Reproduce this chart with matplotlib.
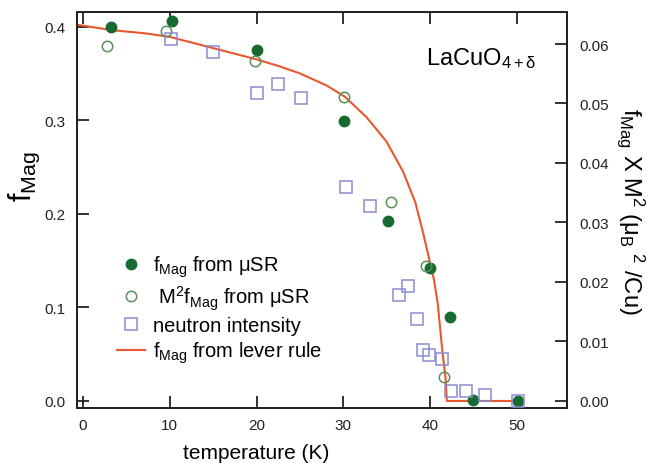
import matplotlib
matplotlib.use("Agg")
import matplotlib.pyplot as plt
from matplotlib.lines import Line2D

plt.rcParams['font.family'] = ['Liberation Sans', 'DejaVu Sans']
plt.rcParams['mathtext.fontset'] = 'custom'
plt.rcParams['mathtext.rm'] = 'Liberation Sans'
plt.rcParams['mathtext.it'] = 'Liberation Sans'
plt.rcParams['mathtext.bf'] = 'Liberation Sans:bold'
plt.rcParams['mathtext.sf'] = 'Liberation Sans'

# ---- data ----
# f_Mag from muSR (left axis)
T_fmag = [3.2, 10.3, 20.1, 30.1, 35.2, 40.0, 42.3, 45.0, 50.2]
f_mag = [0.400, 0.406, 0.375, 0.299, 0.192, 0.142, 0.090, 0.001, 0.000]

# M^2 f_Mag from muSR (right axis)
T_m2 = [2.8, 9.6, 19.8, 30.1, 35.5, 39.5, 41.6]
m2_fmag = [0.0597, 0.0622, 0.0572, 0.0511, 0.0334, 0.0226, 0.0040]

# neutron intensity (right axis)
T_neut = [10.1, 15.0, 20.0, 22.5, 25.1, 30.3, 33.1, 36.4, 37.5, 38.5,
          39.2, 39.9, 41.4, 42.4, 44.2, 46.3, 50.2]
neut = [0.0608, 0.0586, 0.0518, 0.0533, 0.0510, 0.0359, 0.0328, 0.0178,
        0.0192, 0.0138, 0.0085, 0.0077, 0.0070, 0.0016, 0.0016, 0.0009, 0.0000]

# f_Mag from lever rule (left axis)
T_lever = [-0.7, 0, 3.5, 7, 10, 15, 20, 22.5, 25, 28.1, 30.2, 32.7, 35.0, 36.9,
           38.3, 39.2, 40.0, 40.45, 40.9, 41.4, 41.8, 41.95, 50.4]
f_lever = [0.402, 0.401, 0.396, 0.393, 0.389, 0.377, 0.365, 0.358, 0.350,
           0.337, 0.325, 0.303, 0.277, 0.245, 0.2125, 0.180, 0.148, 0.130,
           0.104, 0.056, 0.024, 0.0, 0.0]

x_ticks = [0, 10, 20, 30, 40, 50]
left_ticks = [0.0, 0.1, 0.2, 0.3, 0.4]
left_labels = ['0.0', '0.1', '0.2', '0.3', '0.4']
right_ticks = [0.00, 0.01, 0.02, 0.03, 0.04, 0.05, 0.06]
right_labels = ['0.00', '0.01', '0.02', '0.03', '0.04', '0.05', '0.06']

c_fill = '#196a31'
c_open = '#5b8f58'
c_sq = '#8a8ccf'
c_line = '#e8582e'
c_ax = '#222222'

fig = plt.figure(figsize=(6.54, 4.64), dpi=100)
ax = fig.add_axes([77/654, 1-409/464, 490/654, 396/464])
ax2 = ax.twinx()

ax.plot(T_lever, f_lever, color=c_line, lw=1.5, zorder=2)
ax.plot(T_fmag, f_mag, 'o', ms=7.5, color=c_fill, mec=c_fill, zorder=3)
ax2.plot(T_m2, m2_fmag, 'o', ms=7.5, mfc='none', mec=c_open, mew=1.1, zorder=3)
ax2.plot(T_neut, neut, 's', ms=8, mfc='none', mec=c_sq, mew=1.1, zorder=3)

ax.set_xlim(-0.7, 55.8)
ax.set_ylim(-0.0075, 0.4156)
ax2.set_ylim(-0.00126, 0.0654)

ax.set_xticks(x_ticks)
ax.set_xticklabels([str(t) for t in x_ticks])
ax.set_yticks(left_ticks)
ax.set_yticklabels(left_labels)
ax2.set_yticks(right_ticks)
ax2.set_yticklabels(right_labels)

for a in (ax, ax2):
    for s in a.spines.values():
        s.set_linewidth(1.3)
        s.set_color(c_ax)
ax.tick_params(axis='x', direction='in', length=8.5, width=1.3, top=True,
               labelsize=11, pad=7, colors=c_ax)
ax.tick_params(axis='y', direction='in', length=8.5, width=1.3, right=False,
               labelsize=11, pad=8, colors=c_ax)
ax2.tick_params(axis='y', direction='in', length=8.5, width=1.3,
                labelsize=11, pad=9, colors=c_ax)

ax.set_xlabel('temperature (K)', fontsize=15)
ax.xaxis.set_label_coords(0.366, -0.088, transform=ax.transAxes)
ax.xaxis.label.set_va('top')
ax.set_ylabel(r'$\mathrm{f_{Mag}}$', fontsize=22)
ax.yaxis.set_label_coords(-0.072, 0.586, transform=ax.transAxes)
ax2.set_ylabel(r'$\mathrm{f_{Mag}}$ X M$^{2}$ ($\mathrm{μ_B}$ $^{2}$ /Cu)',
               fontsize=17, rotation=270, labelpad=27)

ax.text(0.937, 0.869, r'LaCuO$_{4+δ}$', transform=ax.transAxes,
        ha='right', va='baseline', fontsize=17)

handles = [
    Line2D([], [], ls='none', marker='o', ms=7.5, color=c_fill),
    Line2D([], [], ls='none', marker='o', ms=7.5, mfc='none', mec=c_open, mew=1.1),
    Line2D([], [], ls='none', marker='s', ms=8, mfc='none', mec=c_sq, mew=1.1),
    Line2D([], [], color=c_line, lw=1.5),
]
labels = [r'$\mathrm{f_{Mag}}$ from μSR',
          r' M$^2$$\mathrm{f_{Mag}}$ from μSR',
          'neutron intensity',
          r'$\mathrm{f_{Mag}}$ from lever rule']
leg = ax2.legend(handles, labels, loc='upper left',
                 bbox_to_anchor=(0.082, 0.39), frameon=False, fontsize=14.5,
                 handlelength=1.4, handletextpad=0.4, labelspacing=0.22,
                 borderaxespad=0, borderpad=0)

fig.savefig('out.png', dpi=100)
